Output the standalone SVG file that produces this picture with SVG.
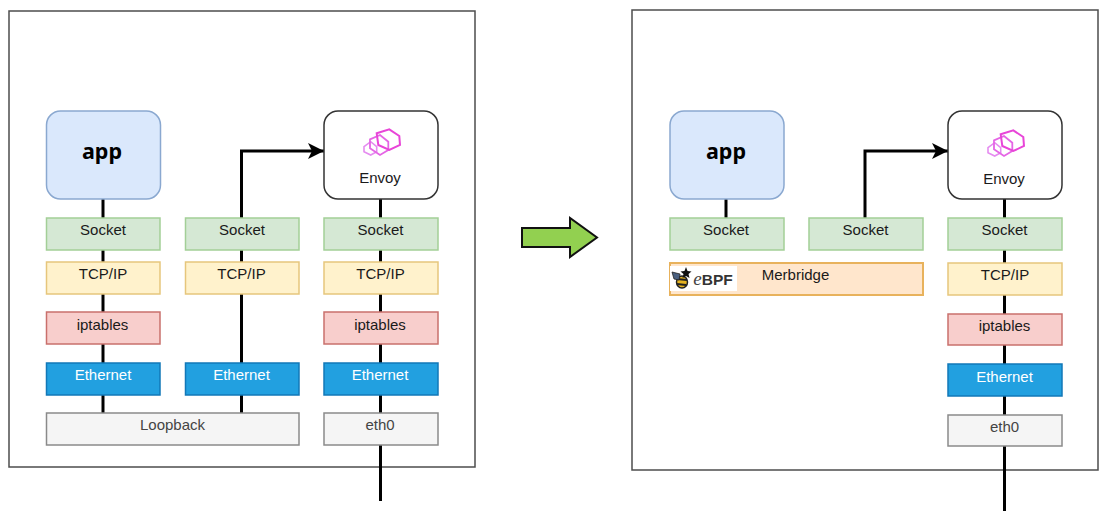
<svg xmlns="http://www.w3.org/2000/svg" width="1110" height="523" viewBox="0 0 1110 523">
<style>
text{font-family:"Liberation Sans",Arial,sans-serif;font-size:15px;text-anchor:middle;fill:#1a1a1a}
.frame{fill:#fff;stroke:#4d4d4d;stroke-width:1.5}
.b{stroke-width:1.5}
.green{fill:#d5e8d4;stroke:#a3cf97}
.yellow{fill:#fff2cc;stroke:#e6c67c}
.red{fill:#f8cecc;stroke:#c9706c}
.blue{fill:#22a0e0;stroke:#1278b8}
.gray{fill:#f5f5f5;stroke:#8a8a8a}
.orange{fill:#ffe6cc;stroke:#e8b25c;stroke-width:2}
.app{fill:#dae8fc;stroke:#8aa8d0;stroke-width:1.5}
.envoy{fill:#fff;stroke:#333;stroke-width:1.5}
.big{font-family:"Noto Sans","Liberation Sans",sans-serif;font-size:21.500px;font-weight:700;fill:#000}
.w{fill:#fff}
.g{fill:#444}
.c{fill:none;stroke:#000;stroke-width:3}
.hex1{fill:none;stroke:#e845d8;stroke-width:2}
.hex2{fill:none;stroke:#e565e5;stroke-width:1.800}
.hex3{fill:none;stroke:#e58cf0;stroke-width:1.600}
</style>
<defs>
<marker id="arrow" markerUnits="userSpaceOnUse" markerWidth="18" markerHeight="18" refX="16" refY="8" orient="auto"><path d="M0 0L16 8L0 16L4 8Z" fill="#000"/></marker>
<g id="hexes">
<path class="hex3" d="M-17 4.700L-10.300-.3L-4.300 4.700V9.700L-10.300 13L-17 9.700Z"/>
<path class="hex2" d="M-11-2.700L-1-7L7.300-.3V8L-1 13L-11 6.300Z"/>
<path class="hex1" d="M-4.300-8.700L8.300-12.700L18.300-6L19 3L8.300 8L-2.700 3Z"/>
</g>
</defs>
<rect id="frame-left" class="frame" x="9" y="11" width="466" height="456"/>
<rect id="frame-right" class="frame" x="632" y="10" width="466" height="460"/>
<g id="connectors">
<path class="c" d="M103 199V413"/>
<path class="c" d="M241.500 413V151H324" marker-end="url(#arrow)"/>
<path class="c" d="M380.500 199V501"/>
<path class="c" d="M726 199V218"/>
<path class="c" d="M865 218V151H948" marker-end="url(#arrow)"/>
<path class="c" d="M1004.500 199V511"/>
</g>
<path id="big-arrow" d="M522 228H570V218L597 237.500L570 257V247H522Z" fill="#92d050" stroke="#111" stroke-width="2"/>
<g id="l-app"><rect class="app" x="46.500" y="111" width="114" height="88" rx="14"/><text class="big" x="102" y="159">app</text></g>
<g id="l-socket1"><rect class="b green" x="46.500" y="218" width="113.500" height="32"/><text x="103" y="235">Socket</text></g>
<g id="l-tcp1"><rect class="b yellow" x="46.500" y="262" width="113.500" height="32"/><text x="103" y="279">TCP/IP</text></g>
<g id="l-ipt1"><rect class="b red" x="46.500" y="312" width="113.500" height="32"/><text x="102.500" y="330">iptables</text></g>
<g id="l-eth1"><rect class="b blue" x="46.500" y="363" width="113.500" height="32"/><text class="w" x="103" y="380">Ethernet</text></g>
<g id="l-loop"><rect class="b gray" x="46.500" y="413" width="252.500" height="32"/><text class="g" x="172.500" y="430">Loopback</text></g>
<g id="l-socket2"><rect class="b green" x="185.500" y="218" width="113.500" height="32"/><text x="242" y="235">Socket</text></g>
<g id="l-tcp2"><rect class="b yellow" x="185.500" y="262" width="113.500" height="32"/><text x="241.500" y="279">TCP/IP</text></g>
<g id="l-eth2"><rect class="b blue" x="185.500" y="363" width="113.500" height="32"/><text class="w" x="241.500" y="380">Ethernet</text></g>
<g id="l-envoy"><rect class="envoy" x="324" y="111" width="114" height="88" rx="14"/><use href="#hexes" x="381" y="142"/><text x="380" y="183">Envoy</text></g>
<g id="l-socket3"><rect class="b green" x="324" y="218" width="114" height="32"/><text x="380.500" y="235">Socket</text></g>
<g id="l-tcp3"><rect class="b yellow" x="324" y="262" width="114" height="32"/><text x="380.500" y="279">TCP/IP</text></g>
<g id="l-ipt3"><rect class="b red" x="324" y="312" width="114" height="32"/><text x="380" y="330">iptables</text></g>
<g id="l-eth3"><rect class="b blue" x="324" y="363" width="114" height="32"/><text class="w" x="380" y="380">Ethernet</text></g>
<g id="l-eth0"><rect class="b gray" x="324" y="413" width="114" height="32"/><text class="g" x="380" y="430">eth0</text></g>
<g id="r-app"><rect class="app" x="670" y="111" width="114" height="88" rx="14"/><text class="big" x="726" y="159">app</text></g>
<g id="r-socket1"><rect class="b green" x="670" y="218" width="114" height="32"/><text x="726" y="235">Socket</text></g>
<g id="r-socket2"><rect class="b green" x="809" y="218" width="114" height="32"/><text x="865.500" y="235">Socket</text></g>
<g id="r-merbridge"><rect class="orange" x="670" y="263" width="253" height="32"/>
<rect x="670" y="266" width="67" height="25" fill="#fff"/>
<g id="bee"><ellipse cx="682" cy="282" rx="5.500" ry="6" fill="#e6b422" stroke="#222" stroke-width="1.500"/><path d="M677 279l10 1M677 284l9 1" stroke="#222" stroke-width="1.800"/><path d="M672 272l8 2-1 6-5-1z" fill="#4a6080" stroke="#222" stroke-width=".8"/><path d="M686 267l1.500 4 4 .5-3 2.500 1 4-3.500-2-3.500 2 1-4-3-2.500 4-.5z" fill="#111"/></g>
<text x="713" y="285" style="font-size:15.500px;font-weight:700;fill:#333"><tspan style="font-family:'Liberation Serif',serif;font-style:italic;font-weight:400;font-size:19px;fill:#444">e</tspan>BPF</text>
<text x="795.500" y="280">Merbridge</text></g>
<g id="r-envoy"><rect class="envoy" x="948" y="111" width="114" height="88" rx="14"/><use href="#hexes" x="1005" y="143"/><text x="1004" y="184">Envoy</text></g>
<g id="r-socket3"><rect class="b green" x="948" y="218" width="114" height="32"/><text x="1004.500" y="235">Socket</text></g>
<g id="r-tcp"><rect class="b yellow" x="948" y="263" width="114" height="32"/><text x="1005" y="280">TCP/IP</text></g>
<g id="r-ipt"><rect class="b red" x="948" y="314" width="114" height="31"/><text x="1004.500" y="331">iptables</text></g>
<g id="r-eth"><rect class="b blue" x="948" y="364" width="114" height="32"/><text class="w" x="1004.500" y="382">Ethernet</text></g>
<g id="r-eth0"><rect class="b gray" x="948" y="415" width="114" height="31"/><text class="g" x="1004.500" y="432">eth0</text></g>
</svg>
